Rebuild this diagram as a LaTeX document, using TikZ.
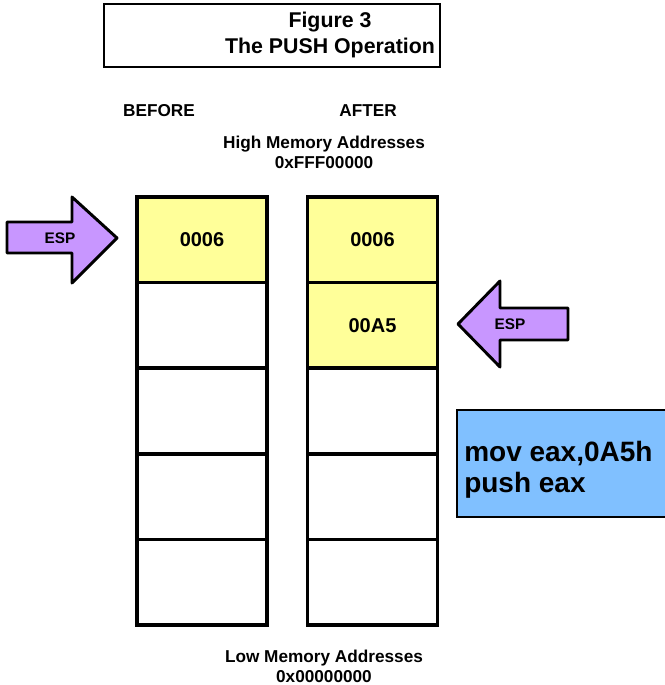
\documentclass[tikz,border=0pt]{standalone}
\usepackage{fontspec}
\setmainfont{Liberation Sans}
\usetikzlibrary{positioning}

\definecolor{cellyellow}{RGB}{255,255,153}
\definecolor{esppurple}{RGB}{200,150,255}
\definecolor{codeblue}{RGB}{128,192,255}

\tikzstyle{cell} = [draw=black,line width=2.7pt,minimum width=97.5pt,minimum height=64.2pt,inner sep=0pt,font=\bfseries\fontsize{15}{17}\selectfont]
\tikzstyle{label} = [font=\bfseries\fontsize{12.9}{15}\selectfont,align=center]
\tikzstyle{esparrow} = [draw=black,fill=esppurple,line width=2.2pt,line join=round]

\begin{document}
\begin{tikzpicture}[x=0.75pt,y=-0.75pt,node distance=64.2pt]
	\useasboundingbox (0,0) rectangle (664,685);
	% title
	\node (titlebox) [draw=black,line width=1.9pt,minimum width=252pt,minimum height=47.25pt] at (272,35.5) {};
	\node (title) [font=\bfseries\fontsize{16}{20}\selectfont,align=center] at (330,35) {Figure 3\\The PUSH Operation};
	\node (before) [label] at (159,111) {BEFORE};
	\node (after) [label] at (368,111) {AFTER};
	\node (high) [label] at (324,152) {High Memory Addresses\\0xFFF00000};
	% before stack
	\node (b1) [cell,fill=cellyellow] at (202,239.8) {0006};
	\node (b2) [cell,below of=b1] {};
	\node (b3) [cell,below of=b2] {};
	\node (b4) [cell,below of=b3] {};
	\node (b5) [cell,below of=b4] {};
	% after stack
	\node (a1) [cell,fill=cellyellow] at (372.5,239.8) {0006};
	\node (a2) [cell,below of=a1,fill=cellyellow] {00A5};
	\node (a3) [cell,below of=a2] {};
	\node (a4) [cell,below of=a3] {};
	\node (a5) [cell,below of=a4] {};
	\node (low) [label] at (324,666) {Low Memory Addresses\\0x00000000};
	% ESP arrows
	\draw [esparrow] (7,222) -- (72,222) -- (72,197) -- (117,238) -- (72,283) -- (72,253) -- (7,253) -- cycle;
	\node (espold) [font=\bfseries\fontsize{11.5}{13}\selectfont] at (60,238) {ESP};
	\draw [esparrow] (568,308) -- (500,308) -- (500,281) -- (458,324) -- (500,367) -- (500,340) -- (568,340) -- cycle;
	\node (espnew) [font=\bfseries\fontsize{11.5}{13}\selectfont] at (510,324) {ESP};
	% code
	\node (codebox) [draw=black,fill=codeblue,line width=1.5pt,minimum width=159.75pt,minimum height=80.25pt] at (563.5,463.5) {};
	\node (code) [anchor=west,align=left,inner sep=0pt,font=\bfseries\fontsize{21}{23.3}\selectfont] at (464,470) {mov eax,0A5h\\push eax};
\end{tikzpicture}
\end{document}
